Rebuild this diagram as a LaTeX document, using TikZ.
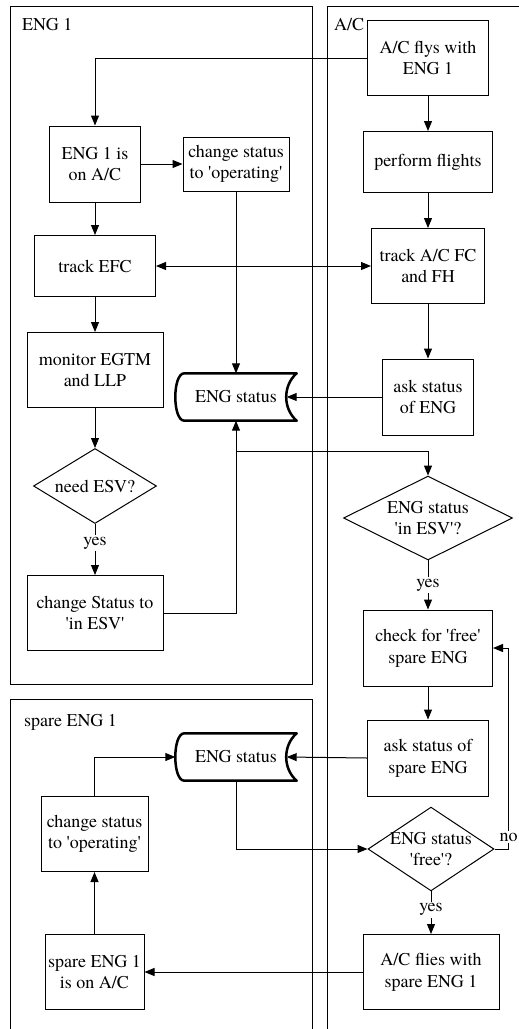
\documentclass[tikz,border=0pt]{standalone}
\usepackage{fontspec}
\IfFontExistsTF{texgyretermes-regular.otf}
	{\setmainfont{texgyretermes}[Extension=.otf,UprightFont=*-regular,BoldFont=*-bold,ItalicFont=*-italic,BoldItalicFont=*-bolditalic]}
	{}
\usetikzlibrary{shapes.geometric,arrows.meta}

\newcommand{\sq}{\textquotesingle}

\tikzset{
	box/.style={draw,line width=1pt,align=center,inner sep=0pt},
	query/.style={diamond,draw,line width=1pt,align=center,inner sep=-8pt},
	store/.style={align=center,inner sep=0pt,minimum width=121pt,minimum height=47pt},
	storeline/.style={line width=2.5pt,line join=round},
	arr/.style={line width=1pt,-{Triangle[length=10pt,width=8pt]}},
	arrboth/.style={line width=1pt,{Triangle[length=10pt,width=8pt]}-{Triangle[length=10pt,width=8pt]}},
	lbl/.style={fill=white,inner sep=2pt},
	lane/.style={line width=1pt},
	lanename/.style={anchor=west,inner sep=0pt}
}

\begin{document}
\begin{tikzpicture}[x=1pt,y=-1pt,font=\rmfamily\fontsize{18}{21.6}\selectfont]
	\useasboundingbox (0,0) rectangle (519,1029);
	
	%LANES
	\draw[lane] (10,6) rectangle (312,684);
	\draw[lane] (519,6)--(327,6)--(327,1029);
	\draw[lane] (10,1029)--(10,699)--(312,699)--(312,1029);
	\node[lanename] (laneeng) at (22,25) {ENG 1};
	\node[lanename] (laneac) at (334,25) {A/C};
	\node[lanename] (lanespare) at (24,722) {spare ENG 1};
	
	%ENG 1
	\node[box,minimum width=91pt,minimum height=76pt] (eng1on) at (95,164) {ENG 1 is\\on A/C};
	\node[box,minimum width=106pt,minimum height=54pt] (chop1) at (236,164) {change status\\to \sq operating\sq};
	\node[box,minimum width=121pt,minimum height=61pt] (trackefc) at (95,266) {track EFC};
	\node[box,minimum width=136pt,minimum height=75pt] (monitor) at (95,370) {monitor EGTM\\and LLP};
	\node[store] (st1) at (236,397) {ENG status};
	\node[query,minimum width=123pt,minimum height=75pt] (needesv) at (95,486) {need ESV?};
	\node[box,minimum width=136pt,minimum height=75pt] (chesv) at (95,613) {change Status to\\\sq in ESV\sq};
	
	%A/C
	\node[box,minimum width=121pt,minimum height=75pt] (acfly) at (428,58) {A/C flys with\\ENG 1};
	\node[box,minimum width=129pt,minimum height=61pt] (perform) at (428,162) {perform flights};
	\node[box,minimum width=113pt,minimum height=75pt] (trackac) at (428,266) {track A/C FC\\and FH};
	\node[box,minimum width=91pt,minimum height=76pt] (askeng) at (428,397) {ask status\\of ENG};
	\node[query,minimum width=169pt,minimum height=75pt] (inesv) at (428,518) {ENG status\\\sq in ESV\sq?};
	\node[box,minimum width=129pt,minimum height=76pt] (check) at (428,648) {check for \sq free\sq\\spare ENG};
	\node[box,minimum width=121pt,minimum height=76pt] (askspare) at (428,758) {ask status of\\spare ENG};
	\node[query,minimum width=126pt,minimum height=75pt] (free) at (431,849) {ENG status\\\sq free\sq?};
	\node[box,minimum width=136pt,minimum height=75pt] (acspare) at (431,972) {A/C flies with\\spare ENG 1};
	
	%SPARE ENG 1
	\node[store] (st2) at (236,757) {ENG status};
	\node[box,minimum width=107pt,minimum height=75pt] (chop2) at (94.5,834) {change status\\to \sq operating\sq};
	\node[box,minimum width=99pt,minimum height=75pt] (spareon) at (94.5,972) {spare ENG 1\\is on A/C};
	
	%STORES
	\foreach \s in {st1,st2}
	\draw[storeline] ([xshift=9pt]\s.north west)--(\s.north east)
		.. controls +(-14,12) and +(-14,-12) .. (\s.south east)
		--([xshift=9pt]\s.south west)
		.. controls +(-12,0) and +(-12,0) .. ([xshift=9pt]\s.north west)--cycle;
	
	%ARROWS
	\draw[arr] (acfly.west) -| (eng1on.north);
	\draw[arr] (acfly)--(perform);
	\draw[arr] (perform)--(trackac);
	\draw[arr] (trackac)--(askeng);
	\draw[arr] (eng1on)--(chop1);
	\draw[arr] (eng1on)--(trackefc);
	\draw[arr] (trackefc)--(monitor);
	\draw[arr] (monitor)--(needesv);
	\draw[arrboth] (trackefc)--(trackac);
	\draw[arr] (chop1)--(st1);
	\draw[arr] (askeng.west)--([xshift=-10pt]st1.east);
	\draw[arr] (needesv)--(chesv) node[lbl,pos=0.37] {yes};
	\draw[arr] (chesv.east) -| (st1.south);
	\coordinate (j1) at (st1.south |- 0,451);
	\draw[arr] (j1) -| (inesv.north);
	\draw[arr] (inesv)--(check) node[lbl,pos=0.5] {yes};
	\draw[arr] (check)--(askspare);
	\draw[arr] (askspare.west)--([xshift=-10pt]st2.east);
	\draw[arr] (st2.south) |- (free.west);
	\draw[arr] (free.east)--++(14,0) |- (check.east) node[lbl,pos=0.03] {no};
	\draw[arr] (free)--(acspare) node[lbl,pos=0.43] {yes};
	\draw[arr] (acspare.west)--(spareon.east);
	\draw[arr] (spareon)--(chop2);
	\draw[arr] (chop2.north) |- (st2.west);
	
	%\draw[help lines,step=50] (0,0) grid (519,1029);
\end{tikzpicture}
\end{document}
